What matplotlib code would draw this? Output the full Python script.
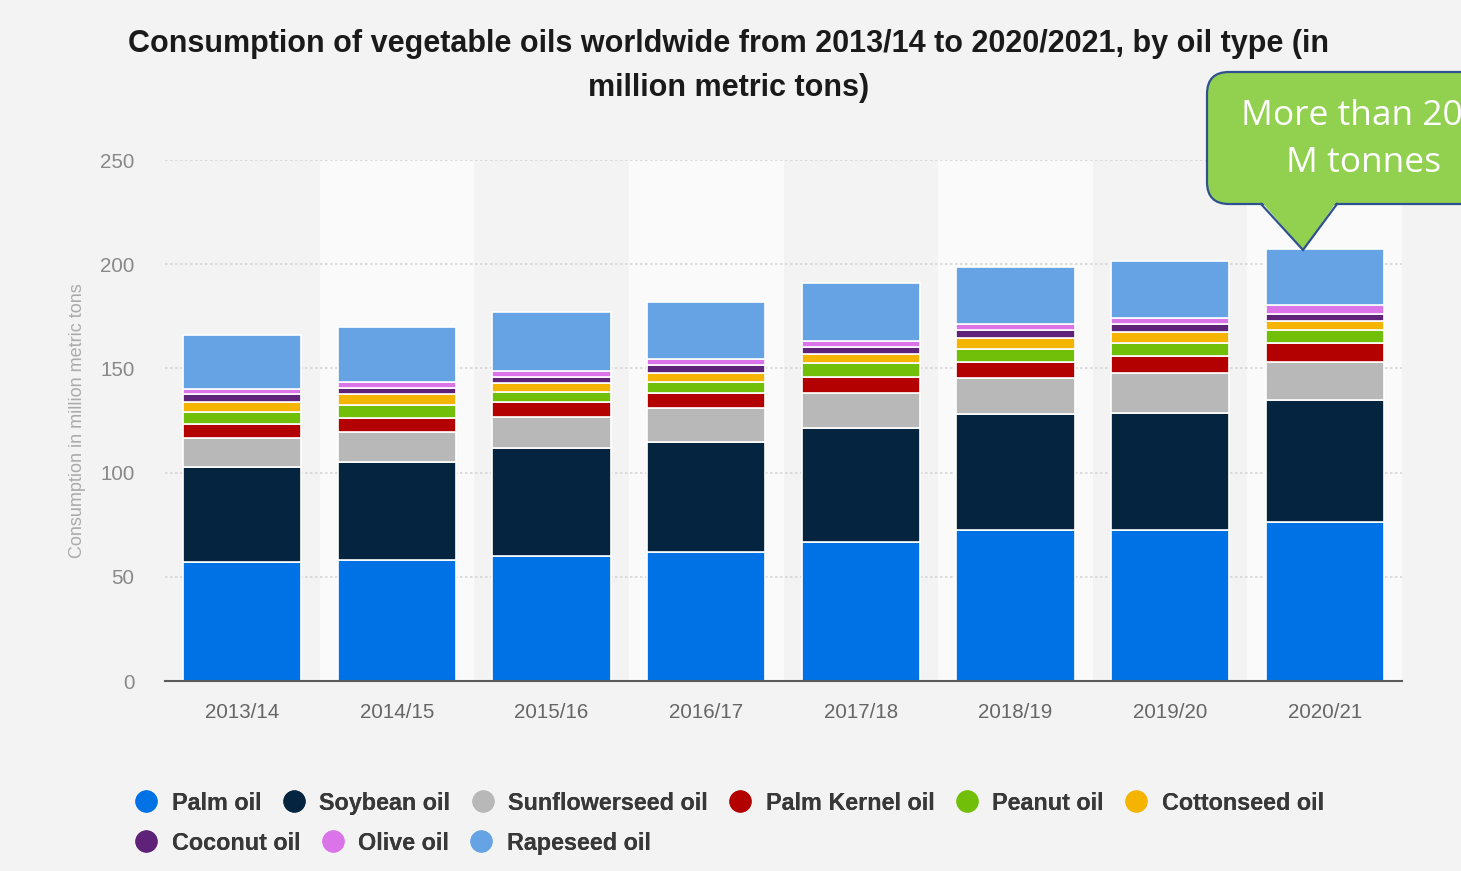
"""
Stacked bar chart: worldwide vegetable oil consumption by oil type,
2013/14 to 2020/21 (million metric tons), with a callout on the last bar.
"""
import matplotlib
matplotlib.use("Agg")
import matplotlib.pyplot as plt
from matplotlib.lines import Line2D
from matplotlib.patches import FancyBboxPatch, Polygon
import numpy as np

OUTPUT = "out.png"

years = ["2013/14", "2014/15", "2015/16", "2016/17",
         "2017/18", "2018/19", "2019/20", "2020/21"]

palm = [57.1, 58.1, 60.0, 61.9, 66.7, 72.5, 72.5, 76.3]
soybean = [45.6, 47.2, 51.8, 53.0, 54.7, 55.4, 56.1, 58.5]
sunflower = [14.1, 14.2, 14.9, 16.1, 16.6, 17.3, 19.2, 18.5]
palm_kernel = [6.3, 6.9, 7.2, 7.2, 8.1, 8.1, 8.1, 8.9]
peanut = [6.0, 5.8, 5.0, 5.3, 6.5, 6.2, 6.3, 6.2]
cottonseed = [4.8, 5.3, 3.9, 4.3, 4.3, 5.1, 5.3, 4.3]
coconut = [3.6, 3.1, 3.1, 3.6, 3.4, 3.8, 3.6, 3.6]
olive = [2.6, 2.9, 2.9, 2.9, 2.8, 2.9, 3.1, 3.9]
rapeseed = [26.0, 26.4, 28.3, 27.6, 27.9, 27.4, 27.3, 27.1]

series_names = ["Palm oil", "Soybean oil", "Sunflowerseed oil", "Palm Kernel oil",
                "Peanut oil", "Cottonseed oil", "Coconut oil", "Olive oil",
                "Rapeseed oil"]
series_values = [palm, soybean, sunflower, palm_kernel, peanut,
                 cottonseed, coconut, olive, rapeseed]
colors = ["#0072e5", "#05243f", "#b8b8b8", "#b30000", "#72bf0a",
          "#f5b400", "#5e2378", "#da74e8", "#66a3e5"]

yticks = [0, 50, 100, 150, 200, 250]

BG = "#f3f3f3"
W, H = 1461, 871

plt.rcParams["font.family"] = ["Liberation Sans", "DejaVu Sans"]

fig = plt.figure(figsize=(W / 100, H / 100), dpi=100)
fig.patch.set_facecolor(BG)

ax = fig.add_axes([165 / W, 1 - 681 / H, 1237 / W, 521 / H])
ax.set_facecolor(BG)

x = np.arange(len(years))

# alternating light column bands
for i in x:
    if i % 2 == 1:
        ax.axvspan(i - 0.5, i + 0.5, color="#fafafa", zorder=0, lw=0)

for t in yticks[1:]:
    ax.axhline(t, color="#d6d6d6", ls=(0, (1.5, 1.5)), lw=1.2, zorder=0.5)

bottom = np.zeros(len(years))
for name, vals, col in zip(series_names, series_values, colors):
    vals = np.array(vals)
    ax.bar(x, vals, bottom=bottom, width=0.765, color=col,
           edgecolor="white", linewidth=1.2, zorder=2, label=name)
    bottom += vals

ax.set_xlim(-0.5, len(years) - 0.5)
ax.set_ylim(0, 250)
ax.set_xticks(x)
ax.set_xticklabels(years, fontsize=14.8, color="#666666")
ax.set_yticks(yticks)
ax.set_yticklabels([str(t) for t in yticks], fontsize=14.8, color="#888888")
ax.tick_params(axis="both", length=0)
ax.tick_params(axis="x", pad=16)
ax.tick_params(axis="y", pad=22)

for s in ["top", "right", "left"]:
    ax.spines[s].set_visible(False)
ax.spines["bottom"].set_color("#5a5a5a")
ax.spines["bottom"].set_linewidth(1.5)
ax.spines["bottom"].set_zorder(3)

ax.set_ylabel("Consumption in million metric tons", fontsize=13, color="#aaaaaa")
ax.yaxis.set_label_coords(-0.064, 0.5)

fig.text(729 / W, 1 - 66 / H,
         "Consumption of vegetable oils worldwide from 2013/14 to 2020/2021, by oil type (in\n"
         "million metric tons)",
         ha="center", va="center", fontsize=22, fontweight="bold",
         color="#1a1a1a", linespacing=1.62)

# legend in two flowing rows
handles = [Line2D([], [], marker="o", ls="", markersize=16, color=c,
                  markeredgewidth=0) for c in colors]
rows = [(0, 6, 803), (6, 9, 843)]
for start, stop, ypix in rows:
    leg = fig.legend(handles[start:stop], series_names[start:stop],
                     loc="center left", bbox_to_anchor=(134.5 / W, 1 - ypix / H),
                     ncol=stop - start, frameon=False, borderpad=0,
                     borderaxespad=0, handlelength=1.0, handletextpad=0.6,
                     columnspacing=0.88,
                     prop={"size": 16.8, "weight": "bold"})
    for txt in leg.get_texts():
        txt.set_color("#383838")
    fig.add_artist(leg)

# callout on top of everything, in pixel coordinates
ov = fig.add_axes([0, 0, 1, 1], facecolor="none")
ov.set_xlim(0, W)
ov.set_ylim(H, 0)
ov.axis("off")

GREEN = "#92d050"
EDGE = "#2f528f"
box = FancyBboxPatch((1207, 72), 360, 132,
                     boxstyle="round,pad=0,rounding_size=22",
                     facecolor=GREEN, edgecolor=EDGE, lw=1.6, zorder=5)
ov.add_patch(box)
ov.add_patch(Polygon([(1261, 201), (1303, 250), (1337, 201)], closed=True,
                     facecolor=GREEN, edgecolor="none", zorder=6))
ov.plot([1261, 1303, 1337], [204, 250, 204], color=EDGE, lw=1.6, zorder=7,
        solid_joinstyle="miter")
ov.text(1362, 116, "More than 200", ha="center", va="center", fontsize=25.5,
        color="white", family="Open Sans", zorder=8)
ov.text(1364, 163, "M tonnes", ha="center", va="center", fontsize=25.5,
        color="white", family="Open Sans", zorder=8)

fig.savefig(OUTPUT, dpi=100, facecolor=BG)
print(f"plot saved: {OUTPUT}")
